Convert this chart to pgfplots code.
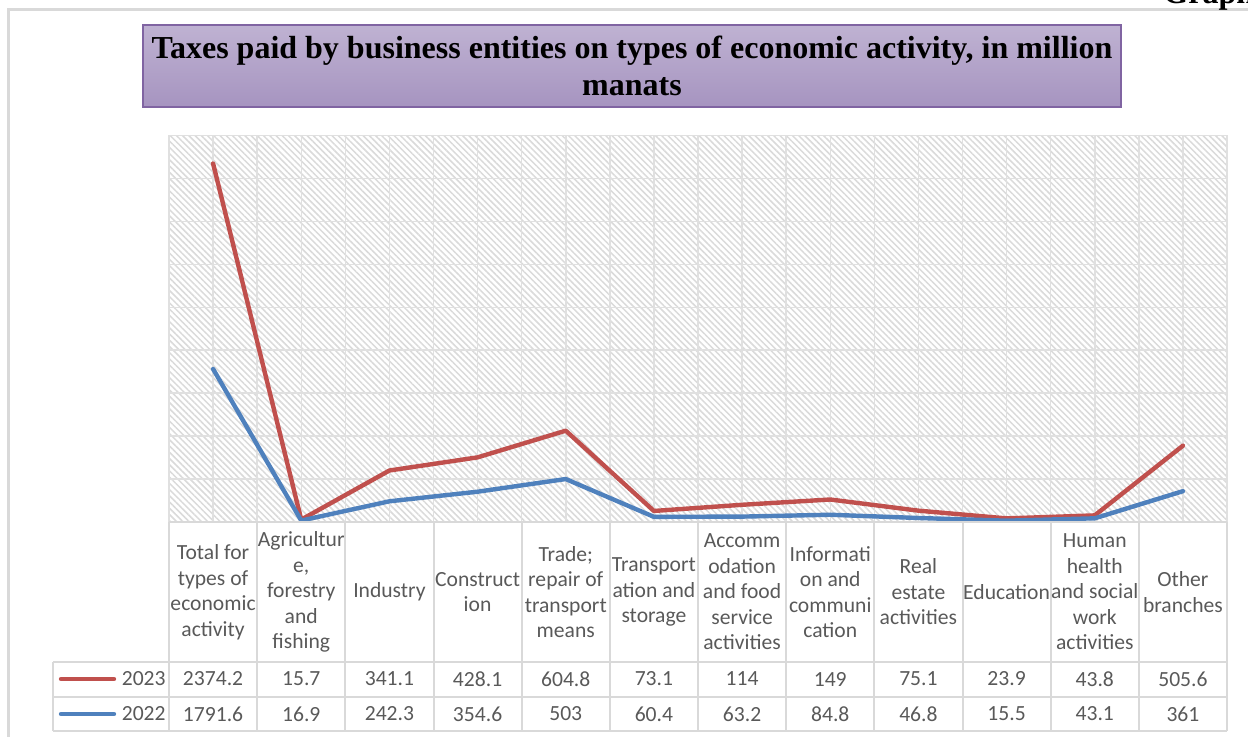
\documentclass[border=0pt]{standalone}
\usepackage{pgfplots}
\pgfplotsset{compat=1.18}
\usepackage{fontspec}
\setmainfont{Carlito}
\newfontfamily\titlefont{Liberation Serif}
\usetikzlibrary{patterns.meta}
\definecolor{c23}{HTML}{C0504D}
\definecolor{c22}{HTML}{4F81BD}
\definecolor{gridc}{HTML}{E0E0E0}
\definecolor{tabline}{HTML}{D9D9D9}
\definecolor{hatch}{HTML}{DADADA}
\definecolor{txt}{HTML}{595959}
\definecolor{ttop}{HTML}{BFB2D2}
\definecolor{tbot}{HTML}{A694C0}
\definecolor{tborder}{HTML}{8064A2}

\begin{document}
\begin{tikzpicture}
  % page is 1248 x 737 px, 1 px = 0.5pt
  \useasboundingbox (0pt,0pt) rectangle (624pt,-368.5pt);
  \clip (0pt,0pt) rectangle (624pt,-368.5pt);

  \begin{scope}[x=0.5pt, y=-0.5pt]
    % outer chart frame
    \draw[tabline, line width=1.5] (8,760) -- (8,9.5) -- (1270,9.5);
    \node[anchor=base west, font=\titlefont\bfseries\fontsize{16}{19}\selectfont, inner sep=0]
      at (1163,4) {Graph};
    % title box
    \shade[top color=ttop, bottom color=tbot] (143,25) rectangle (1121,107);
    \draw[tborder, line width=1] (143,25) rectangle (1121,107);
    \node[align=center, font=\titlefont\bfseries\fontsize{16}{18.5}\selectfont, inner sep=0]
      at (632,66) {Taxes paid by business entities on types of economic activity, in million\\manats};
  \end{scope}

  \begin{axis}[
    at={(84.5pt,-261pt)}, anchor=south west,
    scale only axis, width=529pt, height=193.25pt,
    xmin=-0.5, xmax=11.5, ymin=0, ymax=2560,
    xtick={-0.5,0.5,...,11.5}, minor xtick={0,...,11},
    ytick={284.44,568.89,853.33,1137.78,1422.22,1706.67,1991.11,2275.56},
    xticklabel=\empty, yticklabel=\empty,
    major tick length=0pt, minor tick length=0pt,
    xmajorgrids, xminorgrids, ymajorgrids,
    grid style={draw=gridc, line width=0.75pt},
    minor grid style={draw=gridc, line width=0.75pt},
    axis line style={draw=gridc, line width=0.75pt},
    axis background/.style={fill=white, postaction={pattern={Lines[angle=-45, distance=2.2pt, line width=0.75pt]}, pattern color=hatch}},
    clip=false,
  ]
    \addplot[c23, line width=2.2pt, line join=round, line cap=round] coordinates {
      (0,2374.2)(1,15.7)(2,341.1)(3,428.1)(4,604.8)(5,73.1)
      (6,114)(7,149)(8,75.1)(9,23.9)(10,43.8)(11,505.6)};
  \end{axis}

  % 2022 on its own (secondary) scale
  \begin{axis}[
    at={(84.5pt,-261pt)}, anchor=south west,
    scale only axis, width=529pt, height=193.25pt,
    xmin=-0.5, xmax=11.5, ymin=0, ymax=4525,
    hide axis, clip=false,
  ]
    \addplot[c22, line width=2.2pt, line join=round, line cap=round] coordinates {
      (0,1791.6)(1,16.9)(2,242.3)(3,354.6)(4,503)(5,60.4)
      (6,63.2)(7,84.8)(8,46.8)(9,15.5)(10,43.1)(11,361)};
  \end{axis}

  \begin{scope}[x=0.5pt, y=-0.5pt]
    % data table grid
    \begin{scope}[tabline, line width=1]
      \draw (169,522) -- (1227,522);
      \draw (53,662) -- (1227,662);
      \draw (53,696.5) -- (1227,696.5);
      \draw (53,731) -- (1227,731);
      \draw (53,662) -- (53,731);
      \foreach \k in {0,...,12} {
        \draw ({169+88.167*\k},522) -- ({169+88.167*\k},731);
      }
    \end{scope}
    % legend keys
    \draw[c23, line width=2.2pt, line cap=round] (61,679) -- (114,679);
    \draw[c22, line width=2.2pt, line cap=round] (61,714) -- (114,714);
    \begin{scope}[every node/.style={text=txt, inner sep=0, font=\fontsize{10.8}{12.75}\selectfont, align=center}]
      \node[anchor=east] at (166,679) {2023};
      \node[anchor=east] at (166,714) {2022};
      \foreach \lab [count=\i from 0] in {
        {Total for\\types of\\economic\\activity},
        {Agricultur\\e,\\forestry\\and\\fishing},
        {Industry},
        {Construct\\ion},
        {Trade;\\repair of\\transport\\means},
        {Transport\\ation and\\storage},
        {Accomm\\odation\\and food\\service\\activities},
        {Informati\\on and\\communi\\cation},
        {Real\\estate\\activities},
        {Education},
        {Human\\health\\and social\\work\\activities},
        {Other\\branches}} {
        \node at ({169+88.167*(\i+0.5)},592) {\lab};
      }
      \foreach \v [count=\i from 0] in {2374.2,15.7,341.1,428.1,604.8,73.1,114,149,75.1,23.9,43.8,505.6} {
        \node at ({169+88.167*(\i+0.5)},679) {\v};
      }
      \foreach \v [count=\i from 0] in {1791.6,16.9,242.3,354.6,503,60.4,63.2,84.8,46.8,15.5,43.1,361} {
        \node at ({169+88.167*(\i+0.5)},714) {\v};
      }
    \end{scope}
  \end{scope}
\end{tikzpicture}
\end{document}
